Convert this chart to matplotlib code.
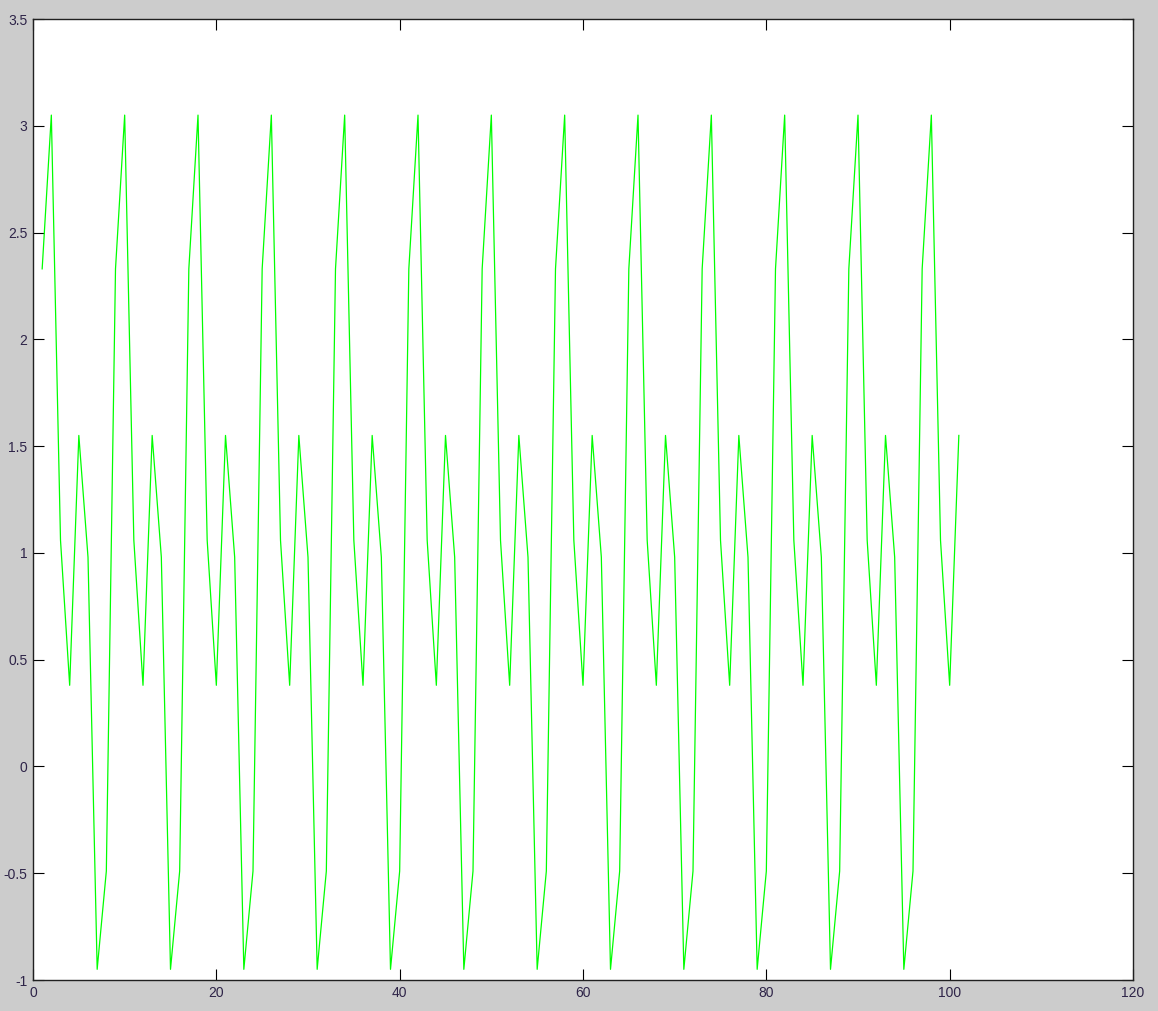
import numpy as np
import matplotlib
matplotlib.use('Agg')
import matplotlib.pyplot as plt

# samples, x = 1..101
x_values = np.arange(1, 102)
y_values = [
    2.33, 3.05, 1.06, 0.38, 1.55, 0.98, -0.95, -0.49,
    2.33, 3.05, 1.06, 0.38, 1.55, 0.98, -0.95, -0.49,
    2.33, 3.05, 1.06, 0.38, 1.55, 0.98, -0.95, -0.49,
    2.33, 3.05, 1.06, 0.38, 1.55, 0.98, -0.95, -0.49,
    2.33, 3.05, 1.06, 0.38, 1.55, 0.98, -0.95, -0.49,
    2.33, 3.05, 1.06, 0.38, 1.55, 0.98, -0.95, -0.49,
    2.33, 3.05, 1.06, 0.38, 1.55, 0.98, -0.95, -0.49,
    2.33, 3.05, 1.06, 0.38, 1.55, 0.98, -0.95, -0.49,
    2.33, 3.05, 1.06, 0.38, 1.55, 0.98, -0.95, -0.49,
    2.33, 3.05, 1.06, 0.38, 1.55, 0.98, -0.95, -0.49,
    2.33, 3.05, 1.06, 0.38, 1.55, 0.98, -0.95, -0.49,
    2.33, 3.05, 1.06, 0.38, 1.55, 0.98, -0.95, -0.49,
    2.33, 3.05, 1.06, 0.38, 1.55,
]

x_ticks = [0, 20, 40, 60, 80, 100, 120]
y_ticks = [-1, -0.5, 0, 0.5, 1, 1.5, 2, 2.5, 3, 3.5]
y_tick_labels = ['-1', '-0.5', '0', '0.5', '1', '1.5', '2', '2.5', '3', '3.5']

plt.rcParams['font.family'] = ['Liberation Sans', 'DejaVu Sans']

fig = plt.figure(figsize=(11.58, 10.11), dpi=100, facecolor='#cccccc')
ax = fig.add_axes([33 / 1158, 1 - 980 / 1011, 1100 / 1158, 961 / 1011])
ax.set_facecolor('white')

ax.plot(x_values, y_values, color='#00ff00', linewidth=0.9)

ax.set_xlim(0, 120)
ax.set_ylim(-1, 3.5)
ax.set_xticks(x_ticks)
ax.set_xticklabels([str(t) for t in x_ticks])
ax.set_yticks(y_ticks)
ax.set_yticklabels(y_tick_labels)

ax.tick_params(direction='in', length=8, width=0.8, top=True, right=True,
               labelsize=10, labelcolor='#2e2448', pad=4)
for side in ax.spines.values():
    side.set_color('#202020')
    side.set_linewidth(1)

fig.savefig('out.png', dpi=100, facecolor=fig.get_facecolor())
